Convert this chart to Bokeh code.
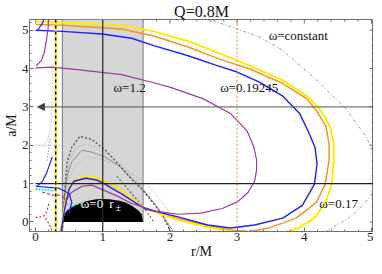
import math
from bokeh.plotting import figure
from bokeh.models import Range1d, SingleIntervalTicker, Label, Arrow, NormalHead, Span
from bokeh.embed import file_html
from bokeh.resources import INLINE

TITLE = "Q=0.8M"
X_LABEL = "r/M"
Y_LABEL = "a/M"
R_MIN, R_MAX = -0.09, 5.03
A_MIN, A_MAX = -0.25, 5.28

# horizons r- and r+ at a=0
band_r = [0.4, 1.6]
# region inside the horizons
hole_r = [0.40, 0.43, 0.47, 0.55, 0.65, 0.75, 0.90, 1.00, 1.10, 1.25, 1.35, 1.45, 1.53, 1.58, 1.60]
hole_a = [0.00, 0.20, 0.30, 0.40, 0.48, 0.54, 0.59, 0.60, 0.59, 0.55, 0.50, 0.40, 0.30, 0.20, 0.00]

# reference lines
r_ring = 0.3
r_one = 1.0
r_three = 3.0
a_one = 1.0
a_arrow = 3.0

# omega = const curves
yellow_r = [0.37, 0.40, 0.43, 0.47, 0.54, 0.72, 0.90, 1.09, 1.24, 1.43, 1.62, 2.12, 2.56, 2.90, 3.26, 3.68, 3.93, 4.15, 4.32, 4.41, 4.44, 4.44, 4.38, 4.25, 4.04, 3.68, 3.19, 2.75, 2.26, 1.76, 1.28, 0.40, 0.00]
yellow_a = [-0.25, 0.05, 0.38, 0.76, 1.04, 1.19, 1.16, 1.01, 0.88, 0.61, 0.35, 0.05, -0.13, -0.25, -0.33, -0.28, -0.15, 0.10, 0.51, 1.01, 1.62, 2.02, 2.50, 2.90, 3.28, 3.69, 4.07, 4.39, 4.72, 4.97, 5.13, 5.20, 5.23]

orange_r = [0.37, 0.40, 0.43, 0.47, 0.54, 0.72, 0.90, 1.09, 1.24, 1.43, 1.62, 2.12, 2.56, 2.90, 3.19, 3.49, 3.88, 4.18, 4.31, 4.37, 4.37, 4.32, 4.19, 4.04, 3.68, 3.19, 2.75, 2.26, 1.76, 1.28, 0.40, 0.00]
orange_a = [-0.25, 0.04, 0.37, 0.74, 1.02, 1.17, 1.14, 0.99, 0.87, 0.61, 0.35, 0.09, -0.10, -0.21, -0.25, -0.15, 0.10, 0.51, 0.98, 1.62, 2.02, 2.50, 2.88, 3.21, 3.61, 3.99, 4.24, 4.57, 4.85, 5.03, 5.13, 5.15]

blue_r = [0.38, 0.43, 0.46, 0.50, 0.57, 0.75, 0.91, 1.04, 1.13, 1.28, 1.62, 2.12, 2.56, 2.90, 3.26, 3.68, 3.97, 4.15, 4.19, 4.16, 4.07, 3.93, 3.68, 3.34, 3.00, 2.68, 2.26, 1.76, 1.43, 0.99, 0.40, 0.00]
blue_a = [-0.25, 0.30, 0.56, 0.86, 1.06, 1.14, 1.09, 0.98, 0.88, 0.73, 0.35, 0.13, -0.08, -0.16, -0.08, 0.10, 0.43, 0.98, 1.52, 1.94, 2.32, 2.83, 3.28, 3.64, 3.91, 4.09, 4.34, 4.60, 4.79, 4.90, 4.97, 5.00]
blue_up_r = [0.03, 0.10, 0.13]
blue_up_a = [5.00, 5.18, 5.30]

purple_r = [0.00, 0.25, 0.69, 1.28, 1.76, 2.01, 2.50, 2.90, 3.15, 3.25, 3.29, 3.29, 3.26, 3.16, 3.01, 2.78, 2.46, 2.12, 1.79, 1.43, 1.21, 1.04, 0.84, 0.69, 0.53, 0.46]
purple_a = [4.02, 4.04, 3.96, 3.84, 3.63, 3.51, 3.21, 2.83, 2.37, 1.95, 1.62, 1.36, 1.06, 0.76, 0.53, 0.35, 0.23, 0.20, 0.28, 0.48, 0.68, 0.81, 0.96, 0.93, 0.76, 0.56]
purple_up_r = [0.01, 0.09, 0.13, 0.16, 0.19, 0.19]
purple_up_a = [4.07, 4.22, 4.42, 4.72, 5.10, 5.30]

const_r = [2.31, 2.60, 2.97, 3.34, 3.68, 4.18, 4.62, 4.93, 5.06, 5.07, 4.99, 4.84, 4.66, 4.32, 4.07]
const_a = [5.48, 5.28, 5.05, 4.82, 4.47, 3.71, 2.95, 2.20, 1.62, 1.06, 0.68, 0.38, 0.10, -0.25, -0.45]

# gray humps inside the band
hump1_r = [0.40, 0.43, 0.47, 0.54, 0.66, 0.84, 1.04, 1.24, 1.43, 1.57, 1.72, 1.87, 2.01]
hump1_a = [-0.25, 0.70, 1.57, 1.95, 2.23, 2.15, 1.87, 1.49, 1.11, 0.88, 0.56, 0.23, -0.25]
hump2_r = [0.40, 0.44, 0.50, 0.60, 0.72, 0.90, 1.10, 1.30, 1.50, 1.70, 1.85, 2.00]
hump2_a = [-0.25, 0.90, 1.60, 1.95, 2.02, 1.95, 1.75, 1.45, 1.10, 0.65, 0.30, -0.10]
hump3_r = [0.40, 0.43, 0.47, 0.54, 0.69, 0.84, 1.04, 1.24, 1.43, 1.62, 1.80, 1.95, 2.05]
hump3_a = [-0.25, 0.60, 1.20, 1.57, 1.87, 1.82, 1.69, 1.46, 1.14, 0.80, 0.40, 0.00, -0.25]
hump4_r = [0.42, 0.48, 0.58, 0.75, 0.95, 1.20, 1.45, 1.65, 1.80, 1.95, 2.10]
hump4_a = [0.30, 1.00, 1.45, 1.68, 1.65, 1.50, 1.25, 1.00, 0.70, 0.35, -0.10]
hump5_r = [1.21, 1.40, 1.60, 1.76]
hump5_a = [1.19, 0.80, 0.40, 0.00]

# small curves near r = 0
left_gray_r = [0.26, 0.25, 0.24, 0.22, 0.17, 0.10, 0.00]
left_gray_a = [4.10, 3.50, 2.90, 2.40, 2.10, 2.00, 2.00]
left_gray2_r = [0.00, 0.40]
left_gray2_a = [2.00, 2.00]
cyan_r = [0.00, 0.28]
cyan_a = [0.86, 0.81]
cyan2_r = [0.50, 0.60, 0.70]
cyan2_a = [0.35, 0.45, 0.48]
blue_l1_r = [0.00, 0.20, 0.35, 0.50, 0.54, 0.50]
blue_l1_a = [0.93, 0.90, 0.88, 0.74, 0.51, 0.25]
blue_l2_r = [0.03, 0.10, 0.17, 0.25]
blue_l2_a = [0.94, 1.05, 1.30, 1.70]
purple_d_r = [0.10, 0.25, 0.38, 0.45, 0.47]
purple_d_a = [0.78, 0.70, 0.70, 0.60, 0.45]
purple_p_r = [0.17, 0.22]
purple_p_a = [1.60, 2.20]
red1_r = [0.00, 0.12, 0.17, 0.20]
red1_a = [0.12, 0.14, 0.28, 0.50]
red2_r = [0.15, 0.20, 0.25]
red2_a = [0.10, -0.05, -0.25]

# frame ticks
major_ticks = [0, 1, 2, 3, 4, 5]
x_minor_ticks = [i / 5 for i in range(1, 25) if i % 5]
y_minor_ticks = [-0.2] + [i / 5 for i in range(1, 27) if i % 5]

FONT = "Liberation Serif"
FRAME = "#6e6e6e"
YELLOW = "#ffea00"
ORANGE = "#f5902a"
BLUE = "#1f1fff"
PURPLE = "#9b3aa0"

p = figure(frame_width=344, frame_height=212, output_backend="svg", toolbar_location=None,
           x_range=Range1d(R_MIN, R_MAX), y_range=Range1d(A_MIN, A_MAX),
           min_border_left=0, min_border_right=0, min_border_top=0, min_border_bottom=0,
           title=TITLE, x_axis_label=X_LABEL, y_axis_label=Y_LABEL)
p.xgrid.visible = False
p.ygrid.visible = False
p.outline_line_color = FRAME
p.background_fill_color = "white"

p.title.align = "center"
p.title.text_font = FONT
p.title.text_font_size = "16px"
p.title.text_font_style = "normal"
p.title.text_color = "#111111"
p.title.standoff = 0
p.title.offset = 0

for ax in p.axis:
    ax.ticker = SingleIntervalTicker(interval=1, num_minor_ticks=5)
    ax.major_tick_in = 4
    ax.major_tick_out = 0
    ax.minor_tick_in = 2
    ax.minor_tick_out = 0
    ax.axis_line_color = FRAME
    ax.major_tick_line_color = FRAME
    ax.minor_tick_line_color = FRAME
    ax.major_label_text_font = FONT
    ax.major_label_text_font_size = "13px"
    ax.major_label_text_color = "#222222"
    ax.major_label_standoff = 1
    ax.axis_label_text_font = FONT
    ax.axis_label_text_font_size = "14px"
    ax.axis_label_text_font_style = "normal"
    ax.axis_label_text_color = "#111111"
    ax.axis_label_standoff = 0

# ticks on top and right frame edges
p.ray(x=major_ticks, y=[A_MAX] * 6, length=4, length_units="screen", angle=-math.pi / 2,
      line_color=FRAME, line_width=1)
p.ray(x=x_minor_ticks, y=[A_MAX] * len(x_minor_ticks), length=2, length_units="screen",
      angle=-math.pi / 2, line_color=FRAME, line_width=1)
p.ray(x=[R_MAX] * 6, y=major_ticks, length=4, length_units="screen", angle=math.pi,
      line_color=FRAME, line_width=1)
p.ray(x=[R_MAX] * len(y_minor_ticks), y=y_minor_ticks, length=2, length_units="screen",
      angle=math.pi, line_color=FRAME, line_width=1)

# band between horizons and black interior
p.quad(left=[band_r[0]], right=[band_r[1]], bottom=[0], top=[A_MAX],
       fill_color="#d6d6d6", line_color=None)
p.segment(x0=band_r, y0=[A_MIN, 0], x1=band_r, y1=[A_MAX, A_MAX], line_color="#8a8a8a", line_width=1.2)

# gray humps
p.line(hump4_r, hump4_a, line_color="#a8a8a8", line_width=1, line_dash="1 2")
p.line(hump2_r, hump2_a, line_color="#9a9a9a", line_width=1, line_dash="1 2")
p.line(hump3_r, hump3_a, line_color="#8c8c8c", line_width=1)
p.line(hump5_r, hump5_a, line_color="#666666", line_width=1.2, line_dash="2 2")
p.line(hump1_r, hump1_a, line_color="#555555", line_width=1.4, line_dash="2 2")
p.line(left_gray_r, left_gray_a, line_color="#aaaaaa", line_width=1, line_dash="1 2")
p.line(left_gray2_r, left_gray2_a, line_color="#999999", line_width=1, line_dash="1 2")

p.varea(x=hole_r, y1=[0] * len(hole_r), y2=hole_a, fill_color="black")

# outer omega=constant curve
p.line(const_r, const_a, line_color="#9a9a9a", line_width=1, line_dash="3 2 1 2")

# main curves
p.line(orange_r, orange_a, line_color=ORANGE, line_width=1.5)
p.line(yellow_r, yellow_a, line_color=YELLOW, line_width=2)
p.line(blue_r, blue_a, line_color=BLUE, line_width=1.4)
p.line(blue_up_r, blue_up_a, line_color=BLUE, line_width=1.2)
p.line(purple_r, purple_a, line_color=PURPLE, line_width=1.2)
p.line(purple_up_r, purple_up_a, line_color=PURPLE, line_width=1.2)

# small curves near the origin
p.line(cyan_r, cyan_a, line_color="#00e5ff", line_width=1.6, line_dash="2 1")
p.line(cyan2_r, cyan2_a, line_color="#00e5ff", line_width=1.2, line_dash="2 1")
p.line(blue_l1_r, blue_l1_a, line_color=BLUE, line_width=1.2)
p.line(blue_l2_r, blue_l2_a, line_color=BLUE, line_width=1.2)
p.line(purple_d_r, purple_d_a, line_color=PURPLE, line_width=1.2, line_dash="3 2")
p.line(purple_p_r, purple_p_a, line_color=PURPLE, line_width=1, line_dash="1 2")
p.line(red1_r, red1_a, line_color="#c0392b", line_width=1.2, line_dash="2 2")
p.line(red2_r, red2_a, line_color="#c0392b", line_width=1.2, line_dash="2 2")

# reference lines
p.add_layout(Span(location=r_ring, dimension="height", line_color=YELLOW, line_width=2))
p.add_layout(Span(location=r_ring, dimension="height", line_color="black", line_width=1.5, line_dash="3 3"))
p.add_layout(Span(location=r_one, dimension="height", line_color="#222222", line_width=1.2))
p.segment(x0=[r_three], y0=[0], x1=[r_three], y1=[A_MAX], line_color=ORANGE, line_width=1, line_dash="2 2")
p.segment(x0=[0], y0=[a_one], x1=[R_MAX], y1=[a_one], line_color="#222222", line_width=1.2)
p.add_layout(Arrow(end=NormalHead(size=7, fill_color="#444444", line_color="#444444"),
                   x_start=R_MAX, y_start=a_arrow, x_end=0.03, y_end=a_arrow,
                   line_color="#555555", line_width=1))

# texts
def lab(x, y, t, size="13px", color="#111111"):
    p.add_layout(Label(x=x, y=y, text=t, text_font=FONT, text_font_size=size,
                       text_color=color, text_align="center", text_baseline="middle"))

lab(1.40, 3.51, "ω=1.2")
lab(3.18, 3.51, "ω=0.19245")
lab(3.91, 4.85, "ω=constant")
lab(4.51, 0.48, "ω=0.17")
lab(0.84, 0.47, "ω=0", color="white")
lab(1.13, 0.47, "r", color="white")
lab(1.23, 0.38, "±", size="10px", color="white")

open("out.html", "w").write(file_html(p, INLINE))
